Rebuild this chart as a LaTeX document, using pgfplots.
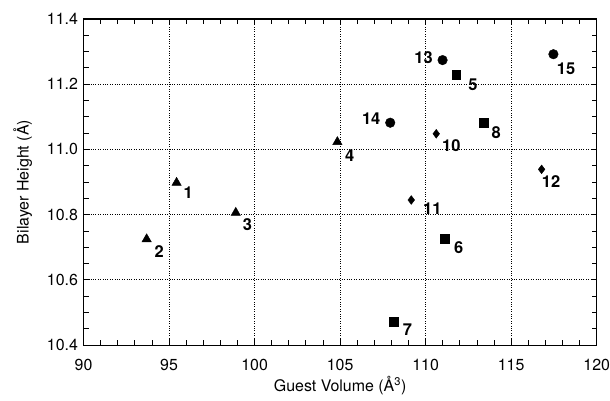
\documentclass[border=0pt]{standalone}
\usepackage{fontspec}
\setmainfont{TeX Gyre Heros}
\usepackage{pgfplots}
\pgfplotsset{compat=1.18}
\usetikzlibrary{calc}

\tikzset{lbl/.style={font=\fontsize{16.5}{18}\selectfont\bfseries, inner sep=0pt, anchor=center}}

\begin{document}
\begin{tikzpicture}
\begin{axis}[
    name=ax,
    scale only axis,
    width=513bp, height=326bp,
    xmin=90, xmax=120, ymin=10.4, ymax=11.4,
    xtick={90,95,...,120},
    ytick={10.4,10.6,...,11.4},
    minor x tick num=4,
    minor y tick num=3,
    tick align=inside,
    major tick length=6bp, minor tick length=5bp,
    tick style={black, line width=0.9pt},
    axis line style={line width=1.2pt},
    grid=major,
    major grid style={black, dotted, line width=0.8pt},
    yticklabel style={/pgf/number format/fixed, /pgf/number format/fixed zerofill, /pgf/number format/precision=1},
    /pgf/number format/assume math mode=true,
    tick label style={font=\fontsize{16}{18}\selectfont},
    xticklabel style={yshift=-11bp},
    yticklabel style={xshift=-2bp},
    xlabel={Guest Volume (Å\textsuperscript{3})},
    ylabel={Bilayer Height (Å)},
    label style={font=\fontsize{16}{18}\selectfont},
    xlabel style={yshift=2bp},
    ylabel style={yshift=8bp},
    clip=false,
]
% triangles
\addplot[only marks, mark=triangle*, mark size=5.4bp, black] coordinates {
  (95.44,10.898) (93.69,10.725) (98.90,10.806) (104.84,11.023)};
% squares
\addplot[only marks, mark=square*, mark size=4.4bp, black] coordinates {
  (111.79,11.228) (111.10,10.726) (108.13,10.472) (113.40,11.083)};
% diamonds
\addplot[only marks, mark=diamond*, mark size=4.4bp, black] coordinates {
  (110.62,11.048) (109.16,10.845) (116.78,10.939)};
% circles
\addplot[only marks, mark=*, mark size=4.8bp, black] coordinates {
  (110.99,11.274) (107.93,11.082) (117.47,11.292)};

\node[lbl, shift={(11.7bp,-10bp)}] at (axis cs:95.44,10.898) {1};
\node[lbl, shift={(12.6bp,-12.4bp)}] at (axis cs:93.69,10.725) {2};
\node[lbl, shift={(11.7bp,-12.3bp)}] at (axis cs:98.90,10.806) {3};
\node[lbl, shift={(12.3bp,-13.4bp)}] at (axis cs:104.84,11.023) {4};
\node[lbl, shift={(16.6bp,-10bp)}] at (axis cs:111.79,11.228) {5};
\node[lbl, shift={(14.3bp,-9.3bp)}] at (axis cs:111.10,10.726) {6};
\node[lbl, shift={(13.7bp,-7.6bp)}] at (axis cs:108.13,10.472) {7};
\node[lbl, shift={(12.4bp,-10.4bp)}] at (axis cs:113.40,11.083) {8};
\node[lbl, shift={(15bp,-12bp)}] at (axis cs:110.62,11.048) {10};
\node[lbl, shift={(21bp,-9bp)}] at (axis cs:109.16,10.845) {11};
\node[lbl, shift={(9.4bp,-12.4bp)}] at (axis cs:116.78,10.939) {12};
\node[lbl, shift={(-19bp,2.7bp)}] at (axis cs:110.99,11.274) {13};
\node[lbl, shift={(-19bp,4.4bp)}] at (axis cs:107.93,11.082) {14};
\node[lbl, shift={(12.7bp,-15bp)}] at (axis cs:117.47,11.292) {15};
\end{axis}
\pgfresetboundingbox
\path[use as bounding box] ($(ax.south west)+(-83.5bp,-55bp)$) rectangle ($(ax.north east)+(13.3bp,19bp)$);
\end{tikzpicture}
\end{document}
